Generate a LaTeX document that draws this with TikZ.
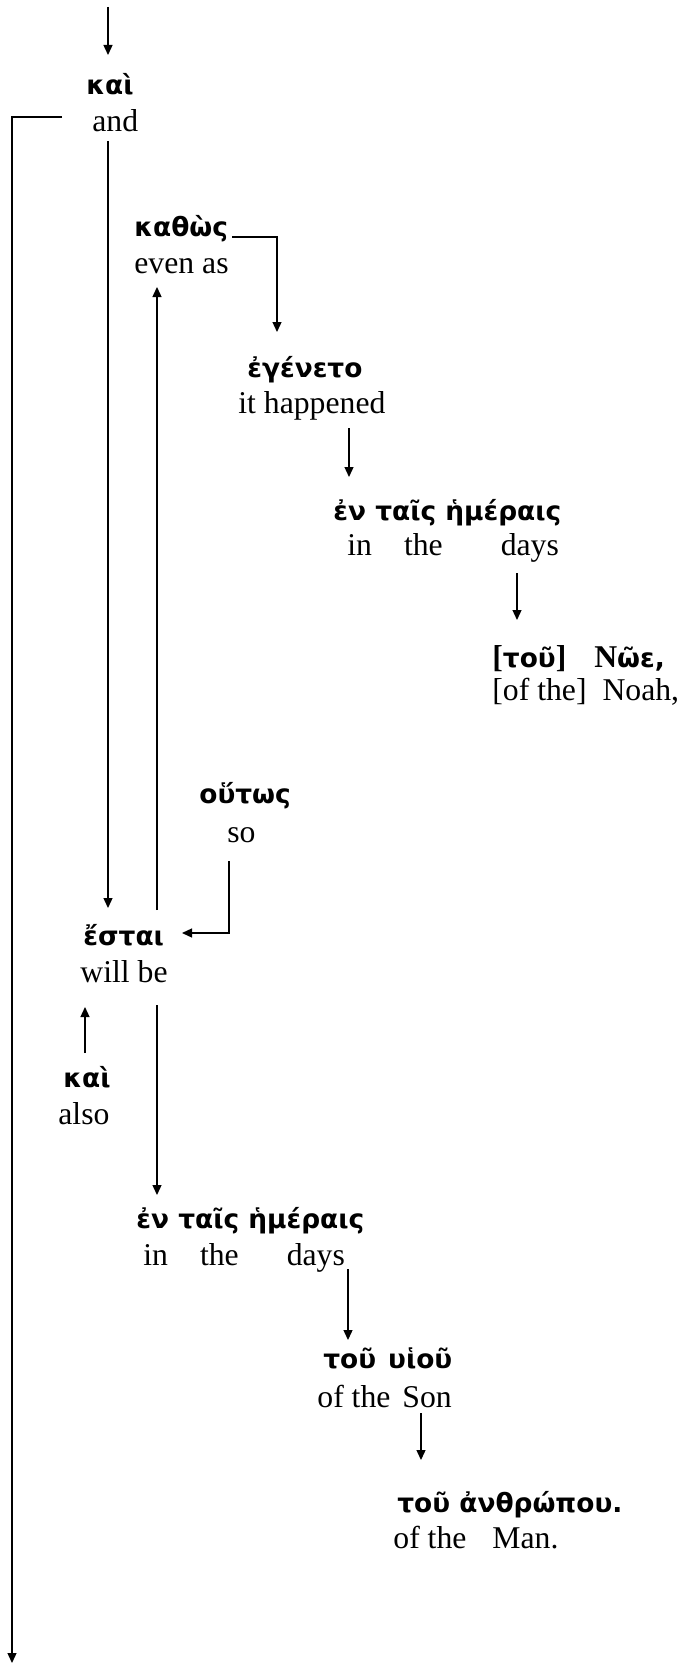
\documentclass[tikz,border=0pt]{standalone}
\usepackage{fontspec}
\setmainfont{Liberation Serif}
\newfontfamily\grk{DejaVu Sans}
\usetikzlibrary{arrows.meta}
\newcommand\lat[1]{{\fontsize{15.85}{18}\selectfont\rmfamily #1}}
\tikzset{
  gk/.style={anchor=base west,inner sep=0pt,font=\fontsize{13.2}{16}\selectfont\grk\bfseries},
  en/.style={anchor=base west,inner sep=0pt,font=\fontsize{15.85}{18}\selectfont},
  conn/.style={line width=0.65pt},
  arr/.style={conn,-{Triangle[length=5pt,width=4.5pt]}}
}
\begin{document}
\begin{tikzpicture}[x=0.5pt,y=-0.5pt]
\useasboundingbox (0,0) rectangle (680,1664);
% nodes
\node[gk] (g1) at (86,95) {καὶ};
\node[en] (e1) at (92,132) {and};
\node[gk] (g2) at (134,237) {καθὼς};
\node[en] (e2) at (134,273) {even as};
\node[gk] (g3) at (247,377) {ἐγένετο};
\node[en] (e3) at (238,413) {it happened};
\node[gk] (g4) at (333,520) {ἐν ταῖς ἡμέραις};
\node[en] (e4) at (347,555) {in\hspace*{16pt}the\hspace*{29pt}days};
\node[gk] (g5) at (492,667) {\lat{[}τοῦ\lat{]}\hspace*{14pt}\lat{N}ῶε,};
\node[en] (e5) at (492,700) {[of the]\hspace*{8pt}Noah,};
\node[gk] (g6) at (199,803) {οὕτως};
\node[en] (e6) at (227,842) {so};
\node[gk] (g7) at (83,945) {ἔσται};
\node[en] (e7) at (80,982) {will be};
\node[gk] (g8) at (63,1087) {καὶ};
\node[en] (e8) at (58,1124) {also};
\node[gk] (g9) at (136,1228) {ἐν ταῖς ἡμέραις};
\node[en] (e9) at (143,1265) {in\hspace*{16pt}the\hspace*{24pt}days};
\node[gk] (g10) at (323,1368) {τοῦ\hspace*{6pt}υἱοῦ};
\node[en] (e10) at (317,1407) {of the\hspace*{6pt}Son};
\node[gk] (g11) at (397,1512) {τοῦ ἀνθρώπου.};
\node[en] (e11) at (393,1548) {of the\hspace*{13pt}Man.};
% free ends
\coordinate (top) at (108,7);
\coordinate (bot) at (12,1663);
% connectors
\draw[arr] (top) -- (108,55);
\draw[arr] (62,117) -- (12,117) -- (bot);
\draw[arr] (108,141) -- (108,908);
\draw[arr] (157,910) -- (157,287);
\draw[arr] ([xshift=2pt]g2.base east) -- (277,237) -- (277,332);
\draw[arr] (349,428) -- (349,477);
\draw[arr] (517,573) -- (517,620);
\draw[arr] (229,861) -- (229,933) -- (182,933);
\draw[arr] (85,1053) -- (85,1007);
\draw[arr] (157,1005) -- (157,1195);
\draw[arr] (348,1269) -- (348,1340);
\draw[arr] (421,1413) -- (421,1460);
\end{tikzpicture}
\end{document}
